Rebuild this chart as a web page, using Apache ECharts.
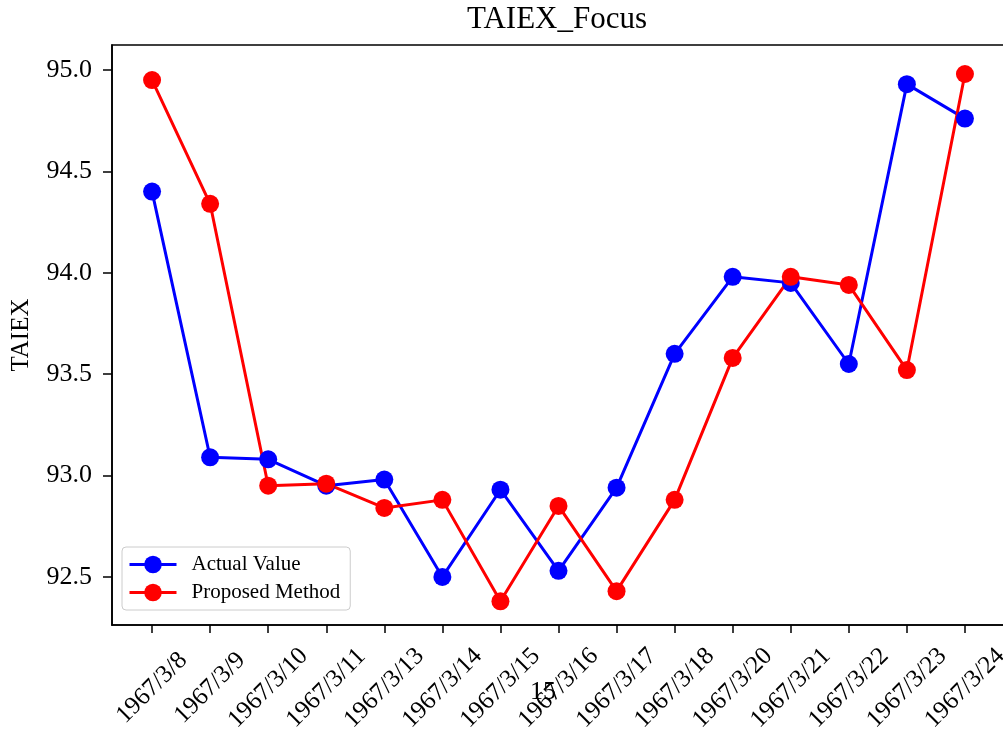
<!DOCTYPE html>
<html>
<head>
<meta charset="utf-8">
<script src="https://cdn.jsdelivr.net/npm/echarts@6/dist/echarts.min.js"></script>
<style>
  html, body { margin: 0; padding: 0; background: #fff; }
  #chart { width: 1003px; height: 729px; }
</style>
</head>
<body>
<div id="chart"></div>
<script>
const dates = ['1967/3/8', '1967/3/9', '1967/3/10', '1967/3/11', '1967/3/13', '1967/3/14', '1967/3/15',
  '1967/3/16', '1967/3/17', '1967/3/18', '1967/3/20', '1967/3/21', '1967/3/22', '1967/3/23', '1967/3/24']
const actualValue = [94.40, 93.09, 93.08, 92.95, 92.98, 92.50, 92.93, 92.53, 92.94, 93.60, 93.98, 93.95, 93.55, 94.93, 94.76]
const proposedMethod = [94.95, 94.34, 92.95, 92.96, 92.84, 92.88, 92.38, 92.85, 92.43, 92.88, 93.58, 93.98, 93.94, 93.52, 94.98]
const yTicks = [92.5, 93.0, 93.5, 94.0, 94.5, 95.0]

const font = 'Liberation Serif, Times New Roman, serif'
const chart = echarts.init(document.getElementById('chart'))

const toPoints = arr => arr.map((v, i) => [i, v])

const option = {
  animation: false,
  title: {
    text: 'TAIEX_Focus',
    left: 557,
    textAlign: 'center',
    top: 4,
    padding: 0,
    textStyle: { fontFamily: font, fontSize: 31, fontWeight: 'normal', color: '#000' }
  },
  grid: {
    left: 112, top: 45, right: -2, bottom: 104,
    outerBoundsMode: 'none',
    show: true, borderColor: '#000', borderWidth: 1.6, backgroundColor: '#fff'
  },
  legend: {
    orient: 'vertical',
    left: 122, top: 547,
    padding: [7, 10, 7, 6],
    itemWidth: 47, itemHeight: 22, itemGap: 7,
    backgroundColor: 'rgba(255,255,255,0.8)',
    borderColor: '#cccccc', borderWidth: 1, borderRadius: 4,
    lineStyle: { width: 3 },
    textStyle: { fontFamily: font, fontSize: 21, color: '#000', padding: [0, 0, 0, 10] },
    data: ['Actual Value', 'Proposed Method']
  },
  xAxis: {
    type: 'value',
    min: -0.69, max: 14.69,
    axisLine: { show: true, onZero: false, lineStyle: { color: '#000', width: 1.6 } },
    axisTick: { show: true, length: 8, lineStyle: { color: '#000', width: 1.5 }, customValues: dates.map((d, i) => i) },
    axisLabel: {
      customValues: dates.map((d, i) => i),
      formatter: v => dates[Math.round(v)] ?? '',
      rotate: 45, align: 'center', verticalAlign: 'middle', margin: 63,
      fontFamily: font, fontSize: 25, color: '#000'
    },
    splitLine: { show: false }
  },
  yAxis: {
    type: 'value',
    min: 92.263, max: 95.123,
    name: 'TAIEX', nameLocation: 'middle', nameGap: 78,
    nameTextStyle: { fontFamily: font, fontSize: 25, color: '#000' },
    axisLine: { show: true, onZero: false, lineStyle: { color: '#000', width: 1.6 } },
    axisTick: { show: true, length: 9, lineStyle: { color: '#000', width: 1.5 }, customValues: yTicks },
    axisLabel: {
      customValues: yTicks,
      formatter: v => v.toFixed(1),
      margin: 20,
      fontFamily: font, fontSize: 26, color: '#000'
    },
    splitLine: { show: false }
  },
  graphic: [{
    type: 'text',
    left: 530, top: 679,
    style: { text: '15', fontFamily: font, fontSize: 26, fill: '#000' }
  }],
  series: [
    {
      name: 'Actual Value',
      type: 'line',
      data: toPoints(actualValue),
      symbol: 'circle', symbolSize: 18,
      lineStyle: { color: '#0000ff', width: 3 },
      itemStyle: { color: '#0000ff' }
    },
    {
      name: 'Proposed Method',
      type: 'line',
      data: toPoints(proposedMethod),
      symbol: 'circle', symbolSize: 18,
      lineStyle: { color: '#ff0000', width: 3 },
      itemStyle: { color: '#ff0000' }
    }
  ]
}

chart.setOption(option)
</script>
</body>
</html>
